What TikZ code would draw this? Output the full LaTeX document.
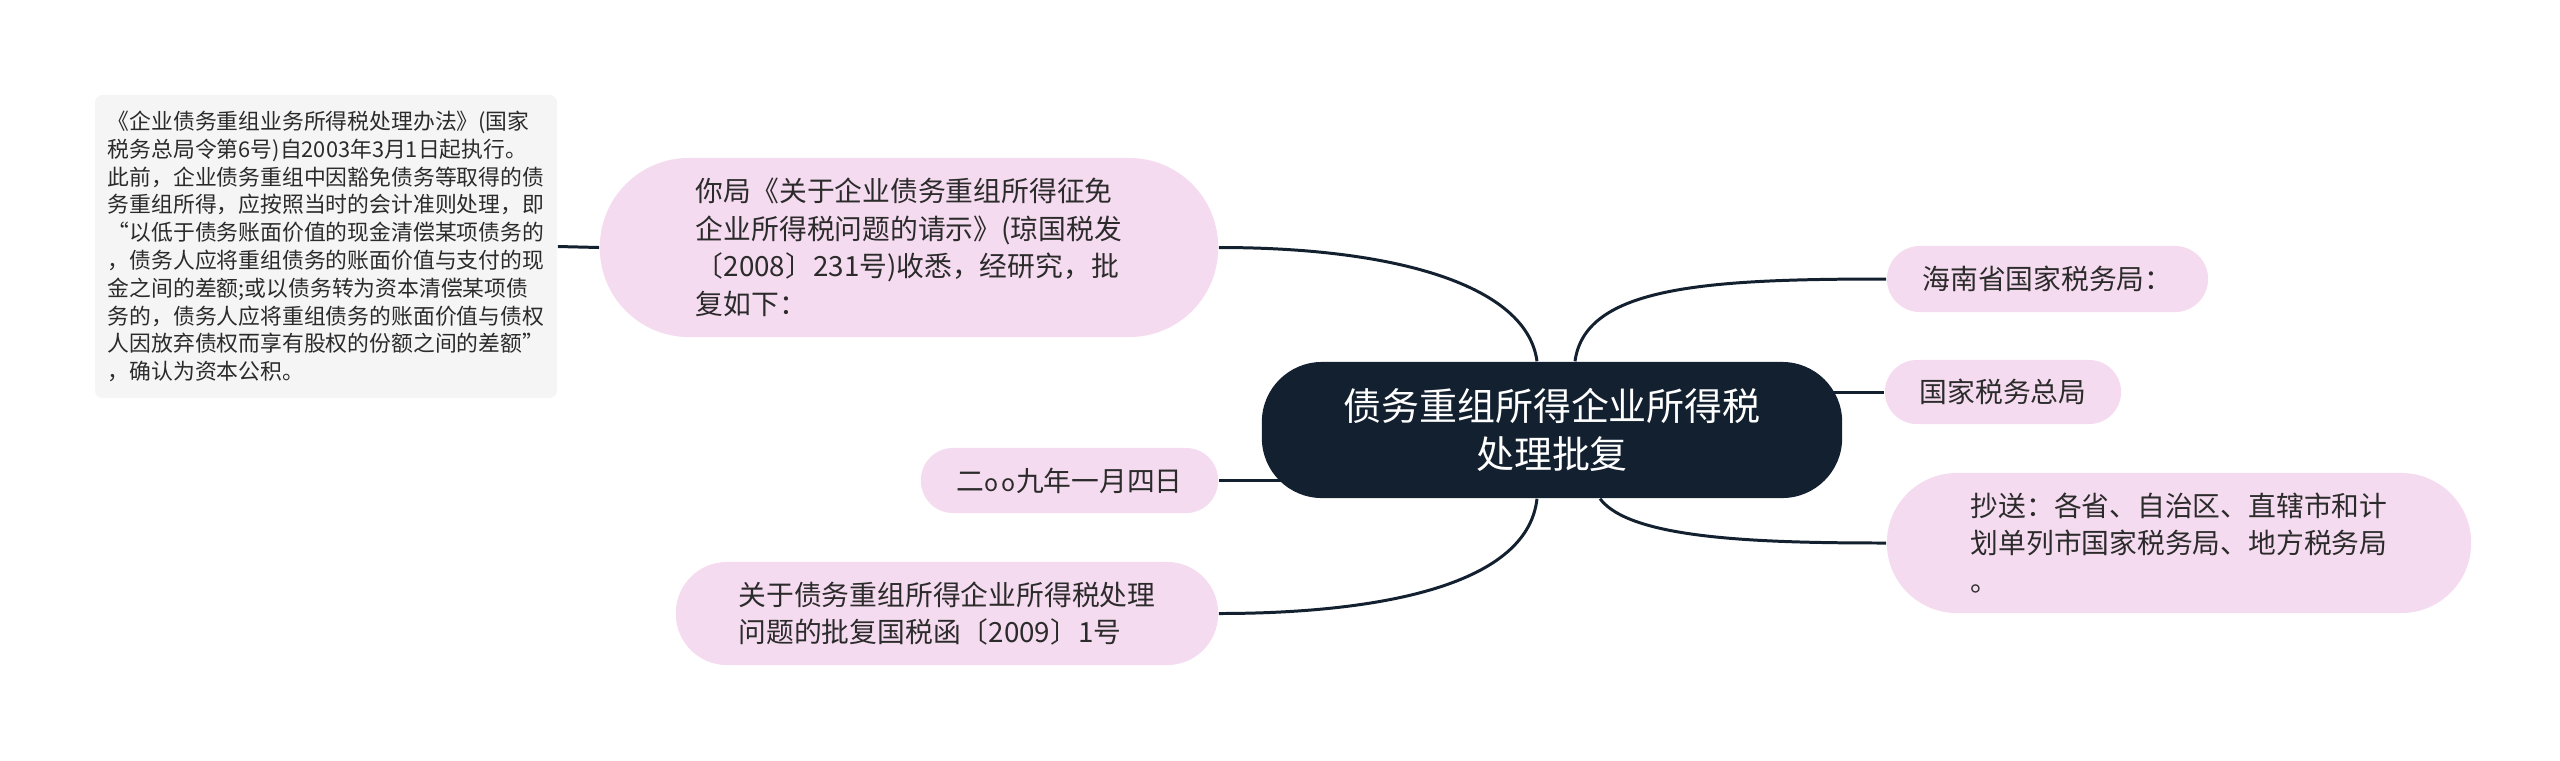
\documentclass[tikz,border=0pt]{standalone}
\usepackage{fontspec}
\setmainfont{Noto Sans CJK SC}
\usepackage{tikz}
\usetikzlibrary{calc,backgrounds}
\definecolor{navy}{HTML}{13202F}
\definecolor{pinkfill}{HTML}{F5DBEF}
\definecolor{notefill}{HTML}{F5F5F5}
\definecolor{inkgray}{HTML}{2B2B2B}

\begin{document}
\begin{tikzpicture}[x=0.01cm, y=-0.01cm,
    rootbox/.style={fill=navy, text=white, align=center, inner sep=0pt,
        minimum width=5.8cm, minimum height=1.36cm, rounded corners=0.6cm,
        font=\fontsize{10.8}{13.7}\selectfont},
    leaf/.style={fill=pinkfill, text=inkgray, align=left, inner sep=0pt,
        font=\fontsize{7.9}{10.7}\selectfont},
    notebox/.style={fill=notefill, text=inkgray, align=left, inner sep=0pt,
        rounded corners=0.08cm, minimum width=4.62cm, minimum height=3.03cm,
        font=\fontsize{6.2}{7.9}\selectfont},
    branch/.style={draw=navy, line width=0.85pt}]
                \useasboundingbox (0,0) rectangle (2560,760);

                % Central topic
                \node[rootbox] (root) at (1552,430) {债务重组所得企业所得税\\处理批复};

                % Left branches
                \node[leaf, minimum width=6.18cm, minimum height=1.79cm, rounded corners=0.89cm]
                    (reply) at (909,247.5) {你局《关于企业债务重组所得征免\\企业所得税问题的请示》(琼国税发\\〔2008〕231号)收悉，经研究，批\\复如下：};
                \node[leaf, minimum width=2.97cm, minimum height=0.65cm, rounded corners=0.32cm]
                    (date) at (1069.5,480.5) {二{\fontsize{6.6}{6.6}\selectfont o\,o}九年一月四日};
                \node[leaf, minimum width=5.42cm, minimum height=1.03cm, rounded corners=0.51cm]
                    (title) at (947,613.5) {关于债务重组所得企业所得税处理\\问题的批复国税函〔2009〕1号};

                % Note on the reply
                \node[notebox] (note) at (326,246.5) {《企业债务重组业务所得税处理办法》(国家\\税务总局令第6号)自2003年3月1日起执行。\\此前，企业债务重组中因豁免债务等取得的债\\务重组所得，应按照当时的会计准则处理，即\\“以低于债务账面价值的现金清偿某项债务的\\，债务人应将重组债务的账面价值与支付的现\\金之间的差额;或以债务转为资本清偿某项债\\务的，债务人应将重组债务的账面价值与债权\\人因放弃债权而享有股权的份额之间的差额”\\，确认为资本公积。};

                % Right branches
                \node[leaf, minimum width=3.21cm, minimum height=0.66cm, rounded corners=0.33cm]
                    (hainan) at (2047.5,279) {海南省国家税务局：};
                \node[leaf, minimum width=2.36cm, minimum height=0.64cm, rounded corners=0.32cm]
                    (zongju) at (2003,392) {国家税务总局};
                \node[leaf, minimum width=5.84cm, minimum height=1.40cm, rounded corners=0.7cm]
                    (chaosong) at (2179,543) {抄送：各省、自治区、直辖市和计\\划单列市国家税务局、地方税务局\\。};

                % Connectors
                \begin{pgfonlayer}{background}
                    \draw[branch] ([xshift=-0.15cm]root.north) .. controls +(-10,-75) and +(180,0) .. (reply.east);
                    \draw[branch] ($(root.west |- date.east)+(40,0)$) -- (date.east);
                    \draw[branch] ([xshift=-0.15cm]root.south) .. controls +(-10,90) and +(150,0) .. (title.east);
                    \draw[branch] ([xshift=0.23cm]root.north) .. controls +(10,-75) and +(-180,0) .. (hainan.west);
                    \draw[branch] ($(root.east |- zongju.west)+(-40,0)$) -- (zongju.west);
                    \draw[branch] ([xshift=0.48cm]root.south) .. controls +(30,40) and +(-130,0) .. (chaosong.west);
                    \draw[branch] (note.east) -- (reply.west);
                \end{pgfonlayer}
            \end{tikzpicture}
\end{document}
